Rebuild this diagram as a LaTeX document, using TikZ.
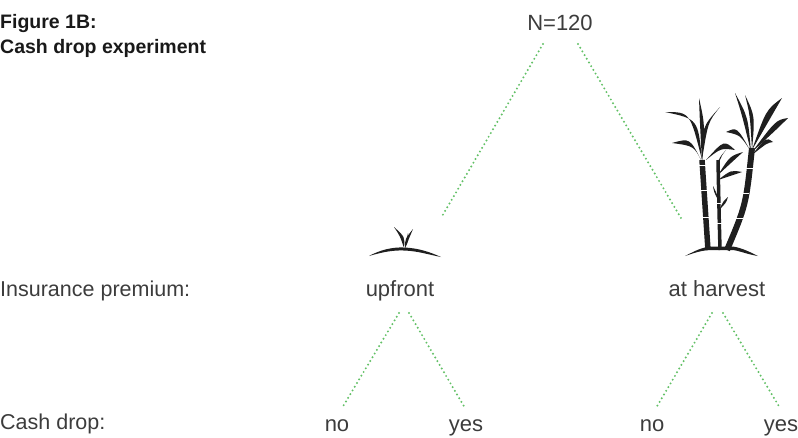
\documentclass[tikz,border=0pt]{standalone}
\usepackage{fontspec}
\setmainfont{Liberation Sans}
\usepackage{xcolor}
\usepackage{tikz}
\usetikzlibrary{calc}

\definecolor{txtgray}{HTML}{3C3C3C}
\definecolor{dotgreen}{HTML}{62C066}

\tikzset{
  lab/.style={font=\fontsize{22}{26}\selectfont, text=txtgray, inner sep=0pt, anchor=base},
  rowlab/.style={lab, font=\fontsize{21.5}{26}\selectfont, anchor=base west},
  titlelab/.style={font=\bfseries\fontsize{19.5}{24}\selectfont, text=black!90, inner sep=0pt, anchor=base west},
  branch/.style={dotgreen, line width=2.2pt, line cap=round, dash pattern=on 0pt off 4.3pt},
  plant/.style={fill=black!88},
  stalk/.style={draw=black!88, line cap=butt},
}
% filled leaf: base, control, tip, shift of the return control
\newcommand\leaf[4]{\fill[plant] (#1) .. controls (#2) .. (#3) .. controls ($(#2)+(#4)$) .. (#1);}

\begin{document}
\begin{tikzpicture}[x=1pt,y=-1pt]
    \useasboundingbox (0,0) rectangle (798,437);

    \node[titlelab] (title1) at (0,28) {Figure 1B:};
    \node[titlelab] (title2) at (0,53) {Cash drop experiment};

    % tree labels
    \node[lab] (root) at (560,30) {N=120};
    \node[rowlab] (premium) at (0,296) {Insurance premium:};
    \node[lab] (upfront) at (400,296) {upfront};
    \node[lab] (harvest) at (717,296) {at harvest};
    \node[rowlab] (cashdrop) at (0,429) {Cash drop:};
    \node[lab] (no1) at (337,431) {no};
    \node[lab] (yes1) at (466,431) {yes};
    \node[lab] (no2) at (652,431) {no};
    \node[lab] (yes2) at (781,431) {yes};

    % foot of each plant
    \coordinate (sprout) at (404,250);
    \coordinate (canefoot) at (735,250);

    % dotted branches
    \draw[branch] ([xshift=-17pt,yshift=-14pt]root.base) -- ([xshift=37pt,yshift=32pt]sprout);
    \draw[branch] ([xshift=18pt,yshift=-14pt]root.base) -- ([xshift=-54pt,yshift=32pt]canefoot);
    \foreach \a/\b/\ax/\bx in {upfront/no1/-1/5, upfront/yes1/9/-1, harvest/no2/-5/4, harvest/yes2/6/-1} {
      \draw[branch] ([xshift=\ax pt,yshift=-17pt]\a.base) -- ([xshift=\bx pt,yshift=23pt]\b.base);
    }

    % sprout
    \fill[plant] (369,256) .. controls (380,250) and (392,247) .. (404,247.5)
      .. controls (418,248) and (430,252) .. (441,257)
      .. controls (428,254.5) and (418,251) .. (404,250.5)
      .. controls (392,250) and (381,252.5) .. (369,256) -- cycle;
    \leaf{404,248}{400,236}{394,227}{5,1}
    \leaf{405,248}{409,238}{413,229}{-4,1}
    \leaf{405,248}{406,240}{408,233}{2.5,1}

    % sugar cane: ground
    \fill[plant] (685,256) .. controls (695,251) and (702,247) .. (712,246.5)
      -- (733,246.5) .. controls (742,248) and (750,252) .. (758,256)
      .. controls (748,254.5) and (740,251) .. (733,250)
      -- (712,250) .. controls (702,250) and (694,253) .. (685,256) -- cycle;
    % stalks
    \draw[stalk, line width=5.5pt] (708,250) -- (702,160);
    \draw[stalk, line width=3.5pt] (720,250) .. controls (719,210) .. (718,160);
    \draw[stalk, line width=6pt] (727,250) .. controls (746,205) .. (752,148);
    % joints
    \foreach \x/\y in {702.3/165, 704/190, 705.8/217, 749/168, 745/193, 739/218, 719/203, 719.5/223} {
      \draw[white, line width=0.8pt] (\x-4,\y) -- (\x+4,\y);
    }
    % left stalk leaves
    \leaf{702,162}{700,125}{699,98}{5,0}
    \leaf{702,160}{690,112}{665,112}{8,7}
    \leaf{702,162}{690,138}{672,143}{4,8}
    \leaf{702,160}{708,122}{720,107}{-6,5}
    \leaf{706,160}{724,140}{735,150}{-3,8}
    % middle stalk leaves
    \leaf{718,165}{722,155}{726,150}{-3,3}
    \leaf{718,175}{730,156}{743,152}{2,6}
    \leaf{718,180}{731,170}{742,172}{2,5}
    \leaf{718,200}{714,192}{713,186}{3,2}
    \leaf{719,210}{724,200}{728,197}{2,3}
    % right stalk leaves
    \leaf{751,152}{742,115}{735,93}{6,2}
    \leaf{752,150}{750,115}{745,95}{5,1}
    \leaf{752,150}{766,110}{782,98}{5,7}
    \leaf{752,152}{776,120}{788,118}{2,8}
    \leaf{752,155}{766,137}{773,142}{1,6}
    \leaf{750,150}{737,127}{726,132}{3,8}
\end{tikzpicture}
\end{document}
